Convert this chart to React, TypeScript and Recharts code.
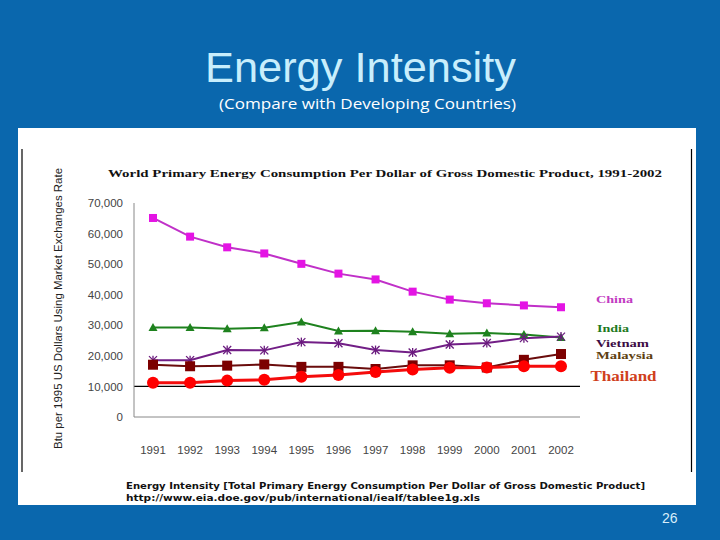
import React from "react";
import { LineChart, Line, XAxis, YAxis, ReferenceLine } from "recharts";

const years = ["1991", "1992", "1993", "1994", "1995", "1996", "1997", "1998", "1999", "2000", "2001", "2002"];
const china = [65100, 59000, 55500, 53500, 50100, 46900, 45000, 41000, 38400, 37200, 36500, 35900];
const india = [29300, 29300, 28900, 29200, 31100, 28100, 28200, 27900, 27200, 27500, 27000, 26000];
const vietnam = [18600, 18600, 21900, 21800, 24500, 24100, 21900, 21100, 23700, 24200, 25800, 26300];
const malaysia = [17100, 16600, 16800, 17200, 16400, 16400, 15700, 16900, 16900, 16200, 18700, 20600];
const thailand = [11200, 11200, 11900, 12200, 13200, 13700, 14700, 15500, 16100, 16200, 16600, 16600];
const yTicks = [0, 10000, 20000, 30000, 40000, 50000, 60000, 70000];

const data = years.map((year, i) => ({
  year,
  china: china[i],
  india: india[i],
  vietnam: vietnam[i],
  malaysia: malaysia[i],
  thailand: thailand[i],
}));

const square = (size: number, color: string) => (p: any) => (
  <rect key={p.index} x={p.cx - size / 2} y={p.cy - size / 2} width={size} height={size} fill={color} />
);

const triangle = (color: string) => (p: any) => (
  <polygon key={p.index} points={`${p.cx},${p.cy - 4.5} ${p.cx - 4.5},${p.cy + 3.5} ${p.cx + 4.5},${p.cy + 3.5}`} fill={color} />
);

const star = (color: string) => (p: any) => (
  <g key={p.index} stroke={color} strokeWidth={1.3}>
    <line x1={p.cx - 4} y1={p.cy - 4} x2={p.cx + 4} y2={p.cy + 4} />
    <line x1={p.cx - 4} y1={p.cy + 4} x2={p.cx + 4} y2={p.cy - 4} />
    <line x1={p.cx} y1={p.cy - 4.5} x2={p.cx} y2={p.cy + 4.5} />
  </g>
);

const circle = (r: number, color: string) => (p: any) => (
  <circle key={p.index} cx={p.cx} cy={p.cy} r={r} fill={color} />
);

const tickStyle = { fill: "#444", fontSize: 11.5, fontFamily: "Liberation Sans, Arial, sans-serif" };

export default function App() {
  return (
    <div
      style={{
        position: "absolute",
        left: 0,
        top: 0,
        width: 720,
        height: 540,
        overflow: "hidden",
        background: "#0a67ad",
      }}
    >
      <div style={{ position: "absolute", left: 18, top: 128, width: 678, height: 377, background: "#fff" }} />

      <svg width={720} height={540} style={{ position: "absolute", left: 0, top: 0 }}>
        <text
          x={205}
          y={82}
          textLength={311}
          lengthAdjust="spacingAndGlyphs"
          fontFamily="Liberation Sans, Arial, sans-serif"
          fontSize={42}
          fill="#c8eefc"
        >
          Energy Intensity
        </text>
        <text
          x={219}
          y={109}
          textLength={297}
          lengthAdjust="spacingAndGlyphs"
          fontFamily="Open Sans, sans-serif"
          fontSize={15}
          fill="#fff"
        >
          (Compare with Developing Countries)
        </text>

        <line x1={22} y1={149} x2={22} y2={472} stroke="#000" strokeWidth={1.2} />
        <line x1={691.5} y1={149} x2={691.5} y2={472} stroke="#000" strokeWidth={1.2} />

        <text
          x={108}
          y={176.5}
          textLength={554}
          lengthAdjust="spacingAndGlyphs"
          fontFamily="Liberation Serif, Times New Roman, serif"
          fontWeight="bold"
          fontSize={11}
          fill="#111"
        >
          World Primary Energy Consumption Per Dollar of Gross Domestic Product, 1991-2002
        </text>

        <text
          transform="translate(62,449) rotate(-90)"
          textLength={281}
          lengthAdjust="spacingAndGlyphs"
          fontFamily="Liberation Sans, Arial, sans-serif"
          fontSize={11.5}
          fill="#222"
        >
          Btu per 1995 US Dollars Using Market Exchanges Rate
        </text>

        <g fontFamily="Liberation Serif, Times New Roman, serif" fontWeight="bold">
          <text x={596} y={302.5} textLength={37} lengthAdjust="spacingAndGlyphs" fontSize={11} fill="#c23cc2">
            China
          </text>
          <text x={597} y={331.5} textLength={32} lengthAdjust="spacingAndGlyphs" fontSize={11} fill="#1e7a1e">
            India
          </text>
          <text x={596} y={347} textLength={53} lengthAdjust="spacingAndGlyphs" fontSize={11} fill="#3c0c44">
            Vietnam
          </text>
          <text x={596} y={358.5} textLength={57} lengthAdjust="spacingAndGlyphs" fontSize={11} fill="#5e4010">
            Malaysia
          </text>
          <text x={590.5} y={380.5} textLength={66} lengthAdjust="spacingAndGlyphs" fontSize={15} fill="#d0401c">
            Thailand
          </text>
        </g>

        <g fontFamily="DejaVu Sans, Verdana, sans-serif" fontWeight="bold" fontSize={9} fill="#111">
          <text x={126} y={489} textLength={519} lengthAdjust="spacingAndGlyphs">
            Energy Intensity [Total Primary Energy Consumption Per Dollar of Gross Domestic Product]
          </text>
          <text x={126} y={500.5} textLength={354} lengthAdjust="spacingAndGlyphs">
            http://www.eia.doe.gov/pub/international/iealf/tablee1g.xls
          </text>
        </g>

        <text x={662} y={523} fontFamily="Liberation Sans, Arial, sans-serif" fontSize={14} fill="#d8eefa">
          26
        </text>
      </svg>

      <div style={{ position: "absolute", left: 0, top: 0 }}>
        <LineChart width={720} height={540} data={data} margin={{ top: 203, right: 140, bottom: 83, left: 84 }}>
          <XAxis
            dataKey="year"
            padding={{ left: 19, right: 19 }}
            height={40}
            tick={tickStyle}
            tickLine={false}
            tickSize={0}
            tickMargin={29}
            axisLine={{ stroke: "#888" }}
            interval={0}
          />
          <XAxis
            xAxisId="top"
            orientation="top"
            dataKey="year"
            height={0}
            tick={false}
            tickLine={false}
            axisLine={{ stroke: "#888" }}
          />
          <YAxis
            width={50}
            domain={[0, 70000]}
            ticks={yTicks}
            tick={tickStyle}
            tickLine={false}
            tickSize={0}
            tickMargin={11}
            axisLine={{ stroke: "#888" }}
            tickFormatter={(v: number) => v.toLocaleString("en-US")}
            interval={0}
          />
          <YAxis
            yAxisId="right"
            orientation="right"
            width={0}
            domain={[0, 70000]}
            tick={false}
            tickLine={false}
            axisLine={{ stroke: "#888" }}
          />
          <ReferenceLine y={10000} stroke="#000" strokeWidth={1.2} />
          <Line dataKey="china" stroke="#c030c8" strokeWidth={2} dot={square(8, "#e414e4")} isAnimationActive={false} />
          <Line dataKey="india" stroke="#1e821e" strokeWidth={2} dot={triangle("#1e821e")} isAnimationActive={false} />
          <Line dataKey="vietnam" stroke="#721e86" strokeWidth={2} dot={star("#6a1a7e")} isAnimationActive={false} />
          <Line dataKey="malaysia" stroke="#6a0c0c" strokeWidth={2} dot={square(10, "#7c0000")} isAnimationActive={false} />
          <Line dataKey="thailand" stroke="#f40c0c" strokeWidth={3} dot={circle(6, "#ff0000")} isAnimationActive={false} />
        </LineChart>
      </div>
    </div>
  );
}
